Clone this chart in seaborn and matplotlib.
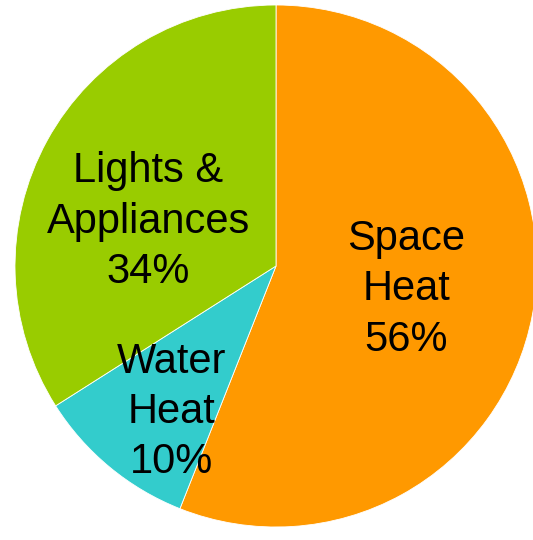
import numpy as np
import matplotlib
matplotlib.use("Agg")
import matplotlib.pyplot as plt
import seaborn as sns

# Data
categories = ["Space\nHeat", "Water\nHeat", "Lights &\nAppliances"]
shares = [56, 10, 34]
colors = ["#FF9900", "#33CCCC", "#99CC00"]

sns.set_theme(style="white")
plt.rcParams['font.family'] = ['Liberation Sans', 'DejaVu Sans']

fig = plt.figure(figsize=(5.33, 5.40), dpi=100)
ax = fig.add_axes([0, 0, 1, 1])

wedges, texts = ax.pie(
    shares,
    colors=colors,
    startangle=90,
    counterclock=False,
    radius=1.0,
    labels=[f"{c}\n{v}%" for c, v in zip(categories, shares)],
    labeldistance=0.5,
    wedgeprops=dict(edgecolor="white", linewidth=0.6),
    textprops=dict(fontsize=30, color="black", linespacing=1.33),
)

# nudge labels to where the original chart puts them
label_pos = [(0.50, -0.09), (-0.40, -0.56), (-0.49, 0.17)]
for t, (x, y) in zip(texts, label_pos):
    t.set_position((x, y))
    t.set_ha("center")
    t.set_va("center")

ax.set_aspect("equal")
ax.set_xlim(-276 / 261, (533 - 276) / 261)
ax.set_ylim(-(540 - 266) / 261, 266 / 261)
ax.axis("off")

fig.savefig("out.png", dpi=100, facecolor="white")
